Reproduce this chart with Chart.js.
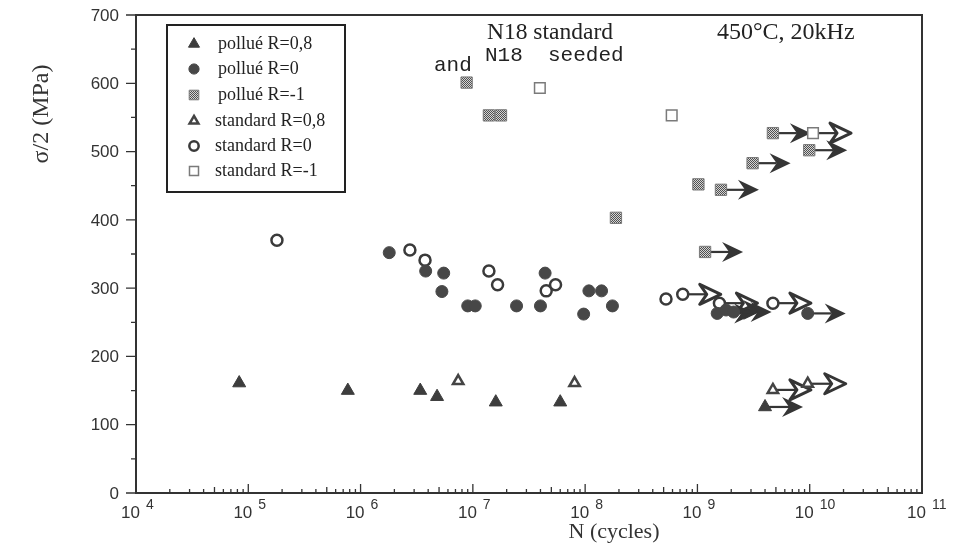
<!DOCTYPE html>
<html>
<head>
<meta charset="utf-8">
<script src="https://cdn.jsdelivr.net/npm/chart.js@4.4.1/dist/chart.umd.min.js"></script>
<style>
  body { margin: 0; background: #fff; }
  canvas { display: block; }
</style>
</head>
<body>
<canvas id="c" width="955" height="549"></canvas>
<script>
// cycles to failure (N) and stress amplitude (MPa)
const pollue08N = [8.3e4, 7.7e5, 3.4e6, 4.8e6, 1.6e7, 6.0e7];
const pollue08S = [161, 150, 150, 141, 133, 133];
const pollue08RunN = [4.0e9];
const pollue08RunS = [126];

const pollue0N = [1.8e6, 3.8e6, 5.5e6, 5.3e6, 9.0e6, 1.05e7, 2.45e7, 4.0e7, 4.4e7, 1.08e8, 1.4e8, 1.75e8, 9.7e7];
const pollue0S = [352, 325, 322, 295, 274, 274, 274, 274, 322, 296, 296, 274, 262];
const pollue0RunN = [1.5e9, 1.8e9, 2.1e9, 9.6e9];
const pollue0RunS = [263, 268, 265, 263];

const pollueM1N = [8.8e6, 1.39e7, 1.78e7, 1.88e8, 1.02e9];
const pollueM1S = [601, 553, 553, 403, 452];
const pollueM1RunN = [1.17e9, 1.62e9, 3.1e9, 4.7e9, 9.9e9];
const pollueM1RunS = [353, 444, 483, 527, 502];

const standard08N = [7.4e6, 8.05e7];
const standard08S = [164, 161];
const standard08RunN = [4.7e9, 9.6e9];
const standard08RunS = [151, 160];

const standard0N = [1.8e5, 2.75e6, 3.75e6, 1.39e7, 1.66e7, 4.5e7, 5.45e7, 5.25e8];
const standard0S = [370, 356, 341, 325, 305, 296, 305, 284];
const standard0RunN = [7.4e8, 1.57e9, 4.7e9];
const standard0RunS = [291, 278, 278];

const standardM1N = [3.95e7, 5.9e8];
const standardM1S = [593, 553];
const standardM1RunN = [1.07e10];
const standardM1RunS = [527];

const decades = [4, 5, 6, 7, 8, 9, 10, 11];
const yTicks = [0, 100, 200, 300, 400, 500, 600, 700];

// halftone fill like the scanned symbols
const halftone = (() => {
  const c = document.createElement('canvas');
  c.width = 2; c.height = 2;
  const g = c.getContext('2d');
  g.fillStyle = '#d4d4d4'; g.fillRect(0, 0, 2, 2);
  g.fillStyle = '#505050';
  g.fillRect(0, 0, 1, 1); g.fillRect(1, 1, 1, 1);
  return g.createPattern(c, 'repeat');
})();

const styles = {
  pollue08:   { label: 'pollué R=0,8',   pointStyle: 'triangle', radius: 7.5, bg: '#3d3d3d', border: '#3d3d3d', bw: 1,   filled: true },
  pollue0:    { label: 'pollué R=0',     pointStyle: 'circle',   radius: 6,   bg: '#474747', border: '#474747', bw: 1,   filled: true },
  pollueM1:   { label: 'pollué R=-1',    pointStyle: 'rect',     radius: 8,   bg: halftone,  border: '#7a7a7a', bw: 1,   filled: true },
  standard08: { label: 'standard R=0,8', pointStyle: 'triangle', radius: 6,   bg: '#ffffff', border: '#444444', bw: 2.5, filled: false },
  standard0:  { label: 'standard R=0',   pointStyle: 'circle',   radius: 5.5, bg: '#ffffff', border: '#3a3a3a', bw: 2.5, filled: false },
  standardM1: { label: 'standard R=-1',  pointStyle: 'rect',     radius: 7.5, bg: '#ffffff', border: '#7a7a7a', bw: 1.5, filled: false }
};

const pts = (xs, ys) => xs.map((x, i) => ({ x: x, y: ys[i] }));

const series = [
  ['pollue08', pollue08N, pollue08S, pollue08RunN, pollue08RunS],
  ['pollue0', pollue0N, pollue0S, pollue0RunN, pollue0RunS],
  ['pollueM1', pollueM1N, pollueM1S, pollueM1RunN, pollueM1RunS],
  ['standard08', standard08N, standard08S, standard08RunN, standard08RunS],
  ['standard0', standard0N, standard0S, standard0RunN, standard0RunS],
  ['standardM1', standardM1N, standardM1S, standardM1RunN, standardM1RunS]
];

const datasets = [];
series.forEach(([key, n, s, rn, rs]) => {
  const st = styles[key];
  const common = {
    pointStyle: st.pointStyle, pointRadius: st.radius, pointHoverRadius: st.radius,
    backgroundColor: st.bg, borderColor: st.border, pointBorderWidth: st.bw, showLine: false
  };
  datasets.push(Object.assign({ label: st.label, data: pts(n, s) }, common));
  datasets.push(Object.assign({ label: st.label + ' (runout)', data: pts(rn, rs), runout: true, filledHead: st.filled }, common));
});

function drawArrow(ctx, x, y, filled) {
  const L = 38, hl = 21, hw = 10, notch = 7;
  const tip = x + L;
  ctx.save();
  ctx.strokeStyle = '#353535';
  ctx.fillStyle = '#353535';
  ctx.lineWidth = 2.2;
  ctx.beginPath();
  ctx.moveTo(x, y);
  ctx.lineTo(tip - hl + notch, y);
  ctx.stroke();
  ctx.beginPath();
  ctx.moveTo(tip, y);
  ctx.lineTo(tip - hl, y - hw);
  ctx.lineTo(tip - hl + notch, y);
  ctx.lineTo(tip - hl, y + hw);
  ctx.closePath();
  if (filled) ctx.fill();
  else { ctx.lineWidth = 3; ctx.lineJoin = 'round'; ctx.stroke(); }
  ctx.restore();
}

const runoutArrows = {
  id: 'runoutArrows',
  beforeDatasetsDraw(chart) {
    const ctx = chart.ctx;
    chart.data.datasets.forEach((ds, i) => {
      if (!ds.runout) return;
      chart.getDatasetMeta(i).data.forEach(el => drawArrow(ctx, el.x, el.y, ds.filledHead));
    });
  }
};

const frameAndTicks = {
  id: 'frameAndTicks',
  afterDraw(chart) {
    const ctx = chart.ctx;
    const a = chart.chartArea;
    const xs = chart.scales.x, ys = chart.scales.y;
    ctx.save();
    ctx.strokeStyle = '#333';
    ctx.lineWidth = 2;
    ctx.strokeRect(a.left, a.top, a.right - a.left, a.bottom - a.top);

    // x ticks pointing into the plot
    ctx.lineWidth = 1.3;
    ctx.beginPath();
    decades.forEach((d, k) => {
      const px = xs.getPixelForValue(Math.pow(10, d));
      ctx.moveTo(px, a.bottom); ctx.lineTo(px, a.bottom - 9);
      if (k < decades.length - 1) {
        for (let m = 2; m <= 9; m++) {
          const mx = xs.getPixelForValue(m * Math.pow(10, d));
          const len = m === 5 ? 6 : 4;
          ctx.moveTo(mx, a.bottom); ctx.lineTo(mx, a.bottom - len);
        }
      }
    });
    // y ticks pointing outward
    for (let v = 0; v <= 700; v += 50) {
      const py = ys.getPixelForValue(v);
      const len = v % 100 === 0 ? 10 : 5;
      ctx.moveTo(a.left, py); ctx.lineTo(a.left - len, py);
    }
    ctx.stroke();

    // y tick labels
    ctx.fillStyle = '#333';
    ctx.textBaseline = 'middle';
    ctx.textAlign = 'right';
    ctx.font = '17px "Liberation Sans", Arial, sans-serif';
    yTicks.forEach(v => ctx.fillText(String(v), a.left - 17, ys.getPixelForValue(v) + 1));

    // x tick labels 10^n
    decades.forEach(d => {
      const px = xs.getPixelForValue(Math.pow(10, d));
      ctx.font = '17px "Liberation Sans", Arial, sans-serif';
      ctx.textAlign = 'right';
      ctx.fillText('10', px + 4, a.bottom + 20);
      ctx.font = '14px "Liberation Sans", Arial, sans-serif';
      ctx.textAlign = 'left';
      ctx.fillText(String(d), px + 10, a.bottom + 12);
    });

    // axis titles
    ctx.fillStyle = '#333';
    ctx.font = '22px "Liberation Serif", "Times New Roman", serif';
    ctx.textAlign = 'center';
    ctx.fillText('N (cycles)', 614, 532);
    ctx.save();
    ctx.translate(42, 114);
    ctx.rotate(-Math.PI / 2);
    ctx.font = '24px "Liberation Serif", "Times New Roman", serif';
    ctx.fillText('σ/2 (MPa)', 0, 0);
    ctx.restore();

    // annotations
    ctx.fillStyle = '#222';
    ctx.textAlign = 'left';
    ctx.font = '23.5px "Liberation Serif", "Times New Roman", serif';
    ctx.fillText('N18 standard', 487, 33);
    ctx.font = '24px "Liberation Serif", "Times New Roman", serif';
    ctx.fillText('450°C, 20kHz', 717, 33);
    ctx.font = '21px "Liberation Mono", "Courier New", monospace';
    ctx.fillText('N18  seeded', 485, 55);
    ctx.fillText('and', 434, 65);

    // legend box
    ctx.strokeStyle = '#222';
    ctx.lineWidth = 2;
    ctx.strokeRect(167, 25, 178, 167);
    const rowsY = [44, 69, 95, 121, 146, 171];
    ctx.font = '18px "Liberation Serif", "Times New Roman", serif';
    series.forEach(([key], k) => {
      const st = styles[key];
      ctx.save();
      ctx.fillStyle = st.bg;
      ctx.strokeStyle = st.border;
      ctx.lineWidth = st.bw;
      Chart.helpers.drawPoint(ctx, { pointStyle: st.pointStyle, radius: st.radius * 0.85, borderWidth: st.bw, rotation: 0 }, 194, rowsY[k]);
      ctx.restore();
      ctx.fillStyle = '#222';
      ctx.fillText(st.label, key.startsWith('pollue') ? 218 : 215, rowsY[k]);
    });
    ctx.restore();
  }
};

new Chart(document.getElementById('c'), {
  type: 'scatter',
  data: { datasets: datasets },
  options: {
    responsive: false,
    devicePixelRatio: 1,
    animation: false,
    layout: { padding: { top: 15, right: 33, left: 136, bottom: 56 } },
    plugins: { legend: { display: false }, tooltip: { enabled: false } },
    scales: {
      x: {
        type: 'logarithmic',
        min: 1e4,
        max: 1e11,
        display: false
      },
      y: {
        min: 0,
        max: 700,
        display: false
      }
    }
  },
  plugins: [runoutArrows, frameAndTicks]
});
</script>
</body>
</html>
